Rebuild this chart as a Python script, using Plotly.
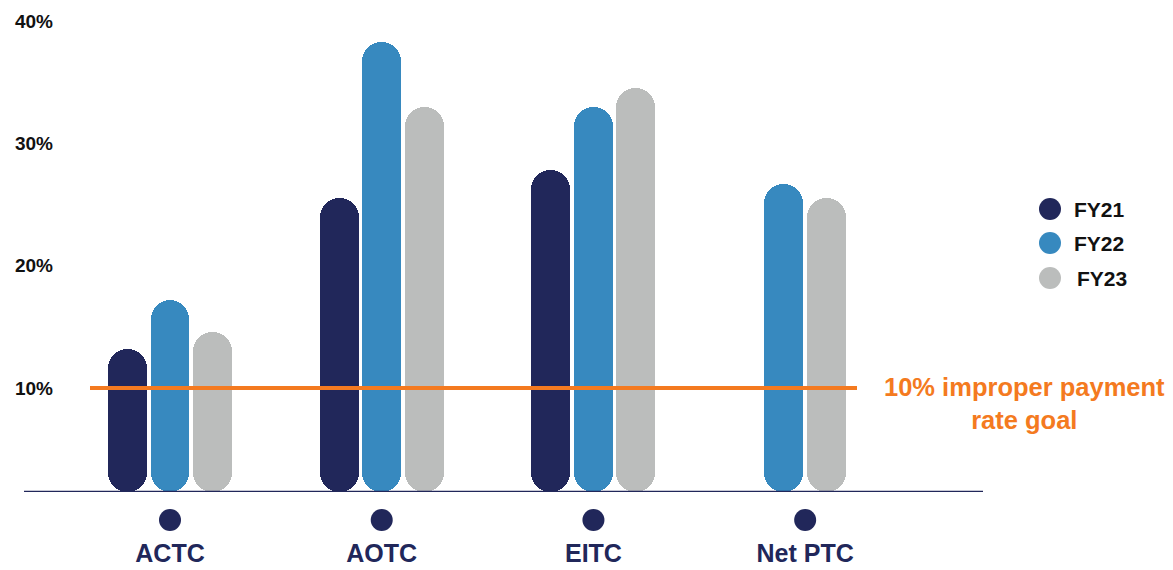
import plotly.graph_objects as go

# ---------------- data ----------------
categories = ["ACTC", "AOTC", "EITC", "Net PTC"]
series_names = ["FY21", "FY22", "FY23"]
fy21 = [13.2, 25.5, 27.8, None]
fy22 = [17.2, 38.3, 33.0, 26.7]
fy23 = [14.6, 33.0, 34.5, 25.5]
goal_value = 10
goal_label = "10% improper payment<br>rate goal"
y_tick_values = [10, 20, 30, 40]
y_tick_labels = ["10%", "20%", "30%", "40%"]

# ---------------- style ----------------
W, H = 1173, 570
colors = ["#21275a", "#3789bf", "#bbbdbc"]
navy = "#21275a"
orange = "#f47a20"
FONT = "Liberation Sans, Arial, sans-serif"

y_min, y_max = 1.5, 41.48
x_min, x_max = -0.529, 3.840
dom_x = [58 / W, 983 / W]
dom_y = [(H - 492) / H, (H - 3) / H]

bar_width = 0.184
bar_pitch = 0.2008

series = [fy21, fy22, fy23]

fig = go.Figure()

# bar x-positions: centre the present bars of each category
xpos = {s: [] for s in range(len(series))}
for ci in range(len(categories)):
    present = [s for s in range(len(series)) if series[s][ci] is not None]
    n = len(present)
    for k, s in enumerate(present):
        xpos[s].append((ci + (k - (n - 1) / 2) * bar_pitch, series[s][ci]))

for s, name in enumerate(series_names):
    xs = [p[0] for p in xpos[s]]
    vals = [p[1] for p in xpos[s]]
    fig.add_trace(go.Bar(
        x=xs, y=[v - y_min for v in vals], base=[y_min] * len(vals),
        width=bar_width, marker=dict(color=colors[s], cornerradius="50%", line=dict(width=0)),
        name=name, showlegend=False, hoverinfo="skip", xaxis="x", yaxis="y"))

# category dots below the baseline (strip axis sharing the category x scale)
dot_y = 520
fig.add_trace(go.Scatter(
    x=list(range(len(categories))), y=[dot_y] * len(categories),
    mode="markers", marker=dict(size=22, color=navy),
    showlegend=False, hoverinfo="skip", xaxis="x3", yaxis="y3"))

# custom legend (circles) in an overlay pixel-space axis
legend_x = 1050
legend_y = [209, 243, 278]
fig.add_trace(go.Scatter(
    x=[legend_x] * 3, y=legend_y, mode="markers",
    marker=dict(size=22, color=colors), showlegend=False, hoverinfo="skip",
    xaxis="x2", yaxis="y2"))
for i, name in enumerate(series_names):
    fig.add_annotation(x=legend_x + 22 + (3 if i == 2 else 0), y=legend_y[i], xref="x2", yref="y2",
                       text=name, showarrow=False, xanchor="left", yanchor="middle",
                       font=dict(family=FONT, size=21, color="#111111", weight="bold"))

# goal line and label
fig.add_shape(type="line", xref="paper", yref="y", x0=90 / W, x1=857 / W,
              y0=goal_value, y1=goal_value, line=dict(color=orange, width=4), layer="above")
fig.add_annotation(x=1024 / W, y=1 - 403 / H, xref="paper", yref="paper",
                   text=goal_label, showarrow=False, align="center",
                   xanchor="center", yanchor="middle",
                   font=dict(family=FONT, size=25.5, color=orange, weight="bold"))

# baseline
fig.add_shape(type="line", xref="paper", yref="y", x0=24 / W, x1=983 / W,
              y0=y_min, y1=y_min, line=dict(color=navy, width=2.5), layer="above")

fig.update_layout(
    width=W, height=H,
    margin=dict(l=0, r=0, t=0, b=0),
    paper_bgcolor="white", plot_bgcolor="rgba(0,0,0,0)",
    barmode="overlay",
    bargap=0,
    xaxis=dict(domain=dom_x, range=[x_min, x_max],
               tickvals=list(range(len(categories))), ticktext=categories,
               showgrid=False, zeroline=False, showline=False, ticks="",
               ticklabelstandoff=44,
               tickfont=dict(family=FONT, size=25, color=navy, weight="bold"),
               anchor="y", fixedrange=True),
    yaxis=dict(domain=dom_y, range=[y_min, y_max],
               tickvals=y_tick_values, ticktext=y_tick_labels,
               showgrid=False, zeroline=False, showline=False, ticks="",
               ticklabelstandoff=4,
               tickfont=dict(family=FONT, size=19, color="#111111", weight="bold"),
               anchor="x", fixedrange=True),
    xaxis2=dict(domain=[0.85, 1.0], range=[0.85 * W, W], visible=False, anchor="y2", fixedrange=True),
    yaxis2=dict(domain=[0, 1], range=[H, 0], visible=False, anchor="x2", fixedrange=True),
    xaxis3=dict(domain=dom_x, range=[x_min, x_max], visible=False, anchor="y3", fixedrange=True),
    yaxis3=dict(domain=[0, dom_y[0]], range=[H, 492], visible=False, anchor="x3", fixedrange=True),
    showlegend=False,
    font=dict(family=FONT),
)

fig.write_html("out.html", config={"displayModeBar": False})
